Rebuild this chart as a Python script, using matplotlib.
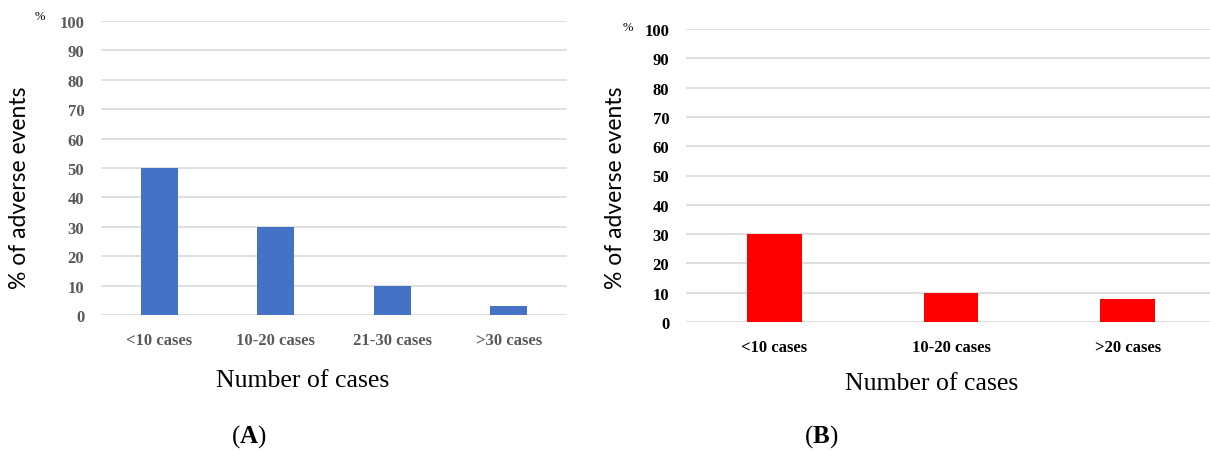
import numpy as np
import matplotlib.pyplot as plt

plt.rcParams['mathtext.fontset'] = 'custom'
plt.rcParams['mathtext.rm'] = 'Liberation Serif'
plt.rcParams['mathtext.bf'] = 'Liberation Serif:bold'

W, H = 1210, 452

cats_a = ['<10 cases', '10-20 cases', '21-30 cases', '>30 cases']
vals_a = [50, 30, 10, 3]
cats_b = ['<10 cases', '10-20 cases', '>20 cases']
vals_b = [30, 10, 8]
yticks = list(range(0, 101, 10))

fig = plt.figure(figsize=(W / 100, H / 100), dpi=100, facecolor='white')


def px_axes(x0, x1, ytop, ybot):
    return fig.add_axes([x0 / W, (H - ybot) / H, (x1 - x0) / W, (ybot - ytop) / H])


def style(ax, cats, vals, color, tickcolor, width):
    x = np.arange(len(cats))
    ax.bar(x, vals, width=width, color=color, zorder=3)
    ax.set_ylim(0, 100)
    ax.set_xlim(-0.5, len(cats) - 0.5)
    ax.set_yticks(yticks)
    ax.set_xticks(x)
    ax.set_xticklabels(cats, family='Liberation Serif', fontweight='bold',
                       fontsize=12, color=tickcolor)
    ax.set_yticklabels([str(t) for t in yticks], family='Liberation Serif',
                       fontweight='bold', fontsize=12, color=tickcolor)
    ax.tick_params(length=0, axis='y', pad=12)
    ax.tick_params(length=0, axis='x', pad=12)
    for s in ax.spines.values():
        s.set_visible(False)
    ax.grid(axis='y', color='#d9d9d9', linewidth=1.2, zorder=0)
    ax.set_axisbelow(True)


# panel A
ax1 = px_axes(101, 567, 22, 316)
style(ax1, cats_a, vals_a, '#4472c4', '#595959', 0.32)
fig.text(40 / W, 1 - 17 / H, '%', fontsize=9, family='Liberation Serif', ha='center', va='center')
fig.text(20 / W, 1 - 188 / H, '% of adverse events', rotation=90, fontsize=16.5,
         family='Lato', ha='center', va='center')
fig.text(303 / W, 1 - 381 / H, 'Number of cases', fontsize=18.5,
         family='Liberation Serif', ha='center', va='center')
fig.text(249 / W, 1 - 437 / H, r'($\mathbf{A}$)', fontsize=18,
         family='Liberation Serif', ha='center', va='center')

# panel B
ax2 = px_axes(686, 1216, 30, 323)
style(ax2, cats_b, vals_b, '#ff0000', '#000000', 0.31)
fig.text(628 / W, 1 - 28 / H, '%', fontsize=9, family='Liberation Serif', ha='center', va='center')
fig.text(615 / W, 1 - 188 / H, '% of adverse events', rotation=90, fontsize=16.5,
         family='Lato', ha='center', va='center')
fig.text(932 / W, 1 - 384 / H, 'Number of cases', fontsize=18.5,
         family='Liberation Serif', ha='center', va='center')
fig.text(821 / W, 1 - 437 / H, r'($\mathbf{B}$)', fontsize=18,
         family='Liberation Serif', ha='center', va='center')

plt.savefig('out.png', dpi=100, facecolor='white')
